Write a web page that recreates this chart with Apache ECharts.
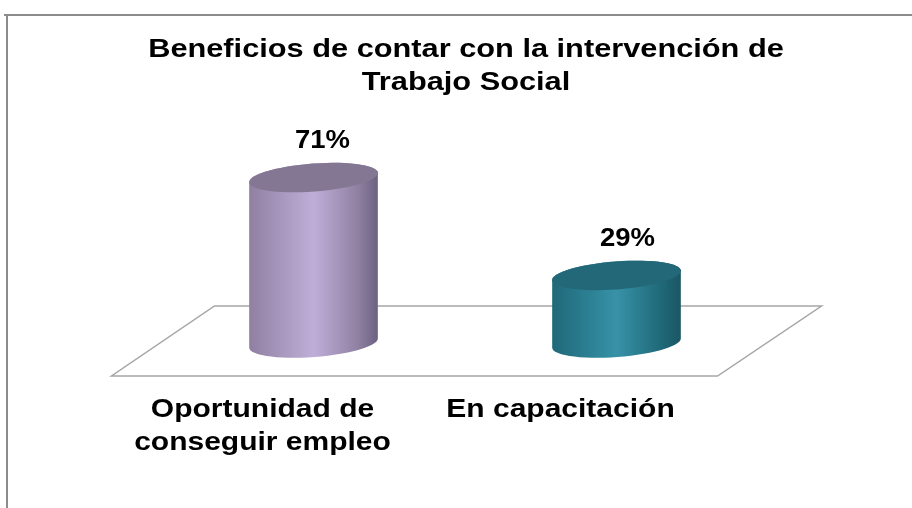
<!DOCTYPE html>
<html>
<head>
<meta charset="utf-8">
<script src="https://cdn.jsdelivr.net/npm/echarts@6/dist/echarts.min.js"></script>
<style>
  html, body { margin: 0; padding: 0; background: #fff; }
  #chart { width: 912px; height: 508px; }
</style>
</head>
<body>
<div id="chart"></div>
<script>
const categories = ['Oportunidad de\nconseguir empleo', 'En capacitación'];
const values = [71, 29];
const valueLabels = ['71%', '29%'];
const chartTitle = 'Beneficios de contar con la intervención de\nTrabajo Social';

// colores de cada cilindro: borde izq, centro, borde der, tapa
const palettes = [
  { left: '#8f80a2', mid: '#bfaed8', right: '#6c6080', top: '#847793' },
  { left: '#1f6878', mid: '#3792a8', right: '#1b5664', top: '#236878' }
];

const FONT = '"Liberation Sans", Arial, sans-serif';

// punto de una elipse algo inclinada
function ellPt(cx, cy, rx, ry, t, a) {
  const u = rx * Math.cos(t), v = ry * Math.sin(t);
  return [cx + u * Math.cos(a) + v * Math.sin(a), cy - u * Math.sin(a) + v * Math.cos(a)];
}

function ellPoints(cx, cy, rx, ry, a, from, to, n) {
  const pts = [];
  for (let i = 0; i <= n; i++) {
    pts.push(ellPt(cx, cy, rx, ry, from + (to - from) * i / n, a));
  }
  return pts;
}

function renderFloor(params, api) {
  const p0 = api.coord([0, 0]);
  const p1 = api.coord([1, 0]);
  const base = p0[1];
  return {
    type: 'polygon',
    shape: {
      points: [
        [p0[0] - 202, base + 33],
        [p1[0] + 101, base + 33],
        [p1[0] + 205, base - 37],
        [p0[0] - 99, base - 37]
      ]
    },
    style: { fill: '#fff', stroke: '#a6a6a6', lineWidth: 1.5 }
  };
}

function renderCyl(params, api) {
  const idx = api.value(0);
  const bottom = api.coord([idx, 0]);
  const top = api.coord([idx, api.value(1)]);
  const rx = 64.5, ry = 14, a = 0.075;
  const cx = bottom[0];
  const pal = palettes[idx];
  // cuerpo: mitad inferior de la base + mitad superior de la tapa
  const lower = ellPoints(cx, bottom[1], rx, ry, a, Math.PI, 0, 30);
  const upper = ellPoints(cx, top[1], rx, ry, a, 0, -Math.PI, 30);
  return {
    type: 'group',
    children: [
      {
        type: 'polygon',
        shape: { points: lower.concat(upper) },
        style: {
          fill: {
            type: 'linear', x: 0, y: 0, x2: 1, y2: 0,
            colorStops: [
              { offset: 0, color: pal.left },
              { offset: 0.5, color: pal.mid },
              { offset: 0.85, color: pal.left },
              { offset: 1, color: pal.right }
            ]
          }
        }
      },
      {
        type: 'polygon',
        shape: { points: ellPoints(cx, top[1], rx, ry, a, 0, Math.PI * 2, 60) },
        style: { fill: pal.top }
      },
      {
        type: 'text',
        x: cx + (idx === 0 ? 9 : 11),
        y: top[1] - 36,
        scaleX: 1.1,
        style: {
          text: valueLabels[idx], fill: '#000', font: 'bold 25px ' + FONT,
          align: 'center', verticalAlign: 'middle'
        }
      },
      {
        type: 'text',
        x: cx + (idx === 0 ? -51 : -56),
        y: bottom[1] + 51,
        scaleX: 1.2,
        style: {
          text: categories[idx], fill: '#000', font: 'bold 25px ' + FONT,
          align: 'center', verticalAlign: 'top', lineHeight: 33
        }
      }
    ]
  };
}

const chart = echarts.init(document.getElementById('chart'));
chart.setOption({
  animation: false,
  backgroundColor: '#fff',
  grid: { left: 162, right: 144, top: 110, bottom: 165 },
  xAxis: {
    type: 'category',
    data: categories,
    axisLine: { show: false },
    axisTick: { show: false },
    axisLabel: { show: false }
  },
  yAxis: {
    type: 'value',
    min: 0,
    max: 100,
    show: false
  },
  graphic: [
    { type: 'line', shape: { x1: 4, y1: 15, x2: 912, y2: 15 }, style: { stroke: '#8c8c8c', lineWidth: 2 } },
    { type: 'line', shape: { x1: 7, y1: 15, x2: 7, y2: 508 }, style: { stroke: '#8c8c8c', lineWidth: 2 } },
    {
      type: 'text',
      x: 466,
      y: 34,
      scaleX: 1.23,
      style: {
        text: chartTitle, fill: '#000', font: 'bold 25px ' + FONT,
        align: 'center', verticalAlign: 'top', lineHeight: 33
      }
    }
  ],
  series: [
    {
      type: 'custom',
      renderItem: renderFloor,
      data: [[0]],
      z: 1,
      silent: true
    },
    {
      type: 'custom',
      renderItem: renderCyl,
      data: values.map((v, i) => [i, v]),
      encode: { x: 0, y: 1 },
      z: 2,
      silent: true
    }
  ]
});
</script>
</body>
</html>
